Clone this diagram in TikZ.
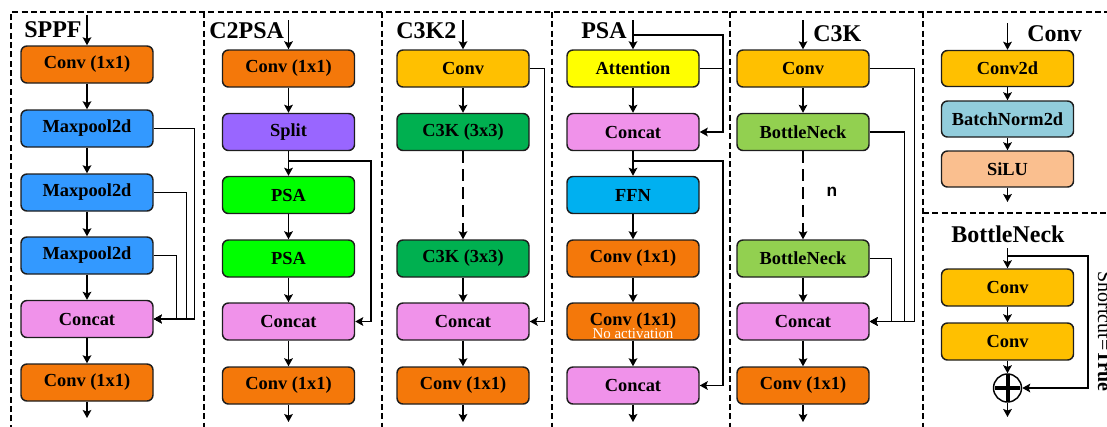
\documentclass[tikz,border=0pt]{standalone}
\usepackage{fontspec}
\setmainfont{Liberation Serif}
\newfontfamily\labelsans{Liberation Sans}
\usetikzlibrary{arrows.meta}

\definecolor{cOrange}{RGB}{244,120,10}
\definecolor{cBlue}{RGB}{51,153,255}
\definecolor{cPink}{RGB}{240,146,234}
\definecolor{cPurple}{RGB}{153,102,255}
\definecolor{cLime}{RGB}{0,255,0}
\definecolor{cGold}{RGB}{255,192,0}
\definecolor{cGreen}{RGB}{0,176,80}
\definecolor{cYellow}{RGB}{255,255,0}
\definecolor{cCyan}{RGB}{0,176,240}
\definecolor{cLeaf}{RGB}{146,208,80}
\definecolor{cTeal}{RGB}{146,205,220}
\definecolor{cPeach}{RGB}{250,191,143}
\definecolor{cEdge}{RGB}{30,30,30}

\begin{document}
\begin{tikzpicture}[x=0.75pt,y=-0.75pt,
  blk/.style={draw=cEdge, line width=1.1pt, rounded corners=4.5pt,
    minimum width=99pt, minimum height=27.75pt, inner sep=0pt,
    font=\fontsize{13.8}{16}\selectfont\bfseries},
  arr/.style={line width=1.1pt, draw=black,
    -{Stealth[length=6pt,width=6.5pt,inset=1.2pt]}},
  ln/.style={line width=1.1pt},
  thinarr/.style={arr, line width=0.8pt},
  panel/.style={line width=1.2pt, dash pattern=on 4.5pt off 2.5pt},
  ttl/.style={font=\fontsize{18}{20}\selectfont\bfseries, inner sep=0pt, anchor=base west},
  skip/.style={dash pattern=on 9pt off 4.5pt}]
\useasboundingbox (0,0) rectangle (1107,426);
\clip (0,0) rectangle (1107,426);

% panel frames
\draw[panel] (11,440) -- (11,12) -- (1120,12);
\foreach \px in {204,382,552,730,923}
  \draw[panel] (\px,12) -- (\px,440);
\draw[panel] (923,213) -- (1120,213);

% ---------------- SPPF ----------------
\node[ttl] (tsppf) at (24,37) {SPPF};
\node[blk, fill=cOrange] (sp1) at (87,64.5) {Conv (1x1)};
\node[blk, fill=cBlue]   (sp2) at (87,128.5) {Maxpool2d};
\node[blk, fill=cBlue]   (sp3) at (87,192.5) {Maxpool2d};
\node[blk, fill=cBlue]   (sp4) at (87,255.5) {Maxpool2d};
\node[blk, fill=cPink]   (sp5) at (87,319) {Concat};
\node[blk, fill=cOrange] (sp6) at (87,382.5) {Conv (1x1)};
\coordinate (spin) at (87,15);
\coordinate (spout) at (87,418);
\draw[arr] (spin) -- (sp1);
\foreach \a/\b in {sp1/sp2,sp2/sp3,sp3/sp4,sp4/sp5,sp5/sp6}
  \draw[arr] (\a) -- (\b);
\draw[arr] (sp6) -- (spout);
\draw[arr] (sp2.east) -- ++(41,0) |- (sp5.east);
\draw[arr] (sp3.east) -- ++(33,0) |- (sp5.east);
\draw[arr] (sp4.east) -- ++(23,0) |- (sp5.east);

% ---------------- C2PSA ----------------
\node[ttl] (tc2psa) at (209,38) {C2PSA};
\node[blk, fill=cOrange] (cp1) at (288.5,68.5) {Conv (1x1)};
\node[blk, fill=cPurple] (cp2) at (288.5,132) {Split};
\node[blk, fill=cLime]   (cp3) at (288.5,195) {PSA};
\node[blk, fill=cLime]   (cp4) at (288.5,258.5) {PSA};
\node[blk, fill=cPink]   (cp5) at (288.5,321.5) {Concat};
\node[blk, fill=cOrange] (cp6) at (288.5,385.5) {Conv (1x1)};
\coordinate (cpin) at (288.5,20);
\coordinate (cpout) at (288.5,422);
\coordinate (cpsplit) at (288.5,161);
\draw[arr] (cpin) -- (cp1);
\foreach \a/\b in {cp1/cp2,cp2/cp3,cp3/cp4,cp4/cp5,cp5/cp6}
  \draw[arr] (\a) -- (\b);
\draw[arr] (cp6) -- (cpout);
\draw[arr] (cpsplit) -- ++(82.5,0) |- (cp5.east);

% ---------------- C3K2 ----------------
\node[ttl] (tc3k2) at (396,38) {C3K2};
\node[blk, fill=cGold]   (ka1) at (463,68.5) {Conv};
\node[blk, fill=cGreen]  (ka2) at (463,132) {C3K (3x3)};
\node[blk, fill=cGreen]  (ka3) at (463,258.5) {C3K (3x3)};
\node[blk, fill=cPink]   (ka4) at (463,321.5) {Concat};
\node[blk, fill=cOrange] (ka5) at (463,385.5) {Conv (1x1)};
\coordinate (kain) at (463,20);
\coordinate (kaout) at (463,422);
\draw[arr] (kain) -- (ka1);
\draw[arr] (ka1) -- (ka2);
\draw[arr, skip] (ka2) -- (ka3);
\draw[arr] (ka3) -- (ka4);
\draw[arr] (ka4) -- (ka5);
\draw[arr] (ka5) -- (kaout);
\draw[arr] (ka1.east) -- ++(15,0) |- (ka4.east);

% ---------------- PSA ----------------
\node[ttl] (tpsa) at (581,38) {PSA};
\node[blk, fill=cYellow] (ps1) at (633,68.5) {Attention};
\node[blk, fill=cPink]   (ps2) at (633,132) {Concat};
\node[blk, fill=cCyan]   (ps3) at (633,195) {FFN};
\node[blk, fill=cOrange] (ps4) at (633,258.5) {Conv (1x1)};
\node[blk, fill=cOrange] (ps5) at (633,321.5) {Conv (1x1)};
\node[blk, fill=cPink]   (ps6) at (633,385.5) {Concat};
\node[font=\fontsize{11.2}{13}\selectfont, text=white, inner sep=0pt] (noact) at (633,334) {No activation};
\coordinate (psin) at (633,20);
\coordinate (psbr) at (633,35);
\coordinate (psmid) at (633,161);
\coordinate (psout) at (633,422);
\draw[arr] (psin) -- (ps1);
\foreach \a/\b in {ps1/ps2,ps2/ps3,ps3/ps4,ps4/ps5,ps5/ps6}
  \draw[arr] (\a) -- (\b);
\draw[arr] (ps6) -- (psout);
\draw[arr] (psbr) -- ++(90,0) |- (ps2.east);
\draw[ln] (ps1.east) -- ++(24,0);
\draw[arr] (psmid) -- ++(90,0) |- (ps6.east);

% ---------------- C3K ----------------
\node[ttl] (tc3k) at (813,41) {C3K};
\node[blk, fill=cGold]   (kb1) at (803,68.5) {Conv};
\node[blk, fill=cLeaf]   (kb2) at (803,132) {BottleNeck};
\node[blk, fill=cLeaf]   (kb3) at (803,258.5) {BottleNeck};
\node[blk, fill=cPink]   (kb4) at (803,321.5) {Concat};
\node[blk, fill=cOrange] (kb5) at (803,385.5) {Conv (1x1)};
\node[font=\labelsans\fontsize{13}{15}\selectfont\bfseries, inner sep=0pt] (rep) at (832,192) {n};
\coordinate (kbin) at (803,20);
\coordinate (kbout) at (803,422);
\draw[thinarr] (kbin) -- (kb1);
\draw[thinarr] (kb1) -- (kb2);
\draw[thinarr, skip] (kb2) -- (kb3);
\draw[thinarr] (kb3) -- (kb4);
\draw[thinarr] (kb4) -- (kb5);
\draw[thinarr] (kb5) -- (kbout);
\draw[thinarr] (kb1.east) -- ++(45,0) |- (kb4.east);
\draw[thinarr] (kb2.east) -- ++(35,0) |- (kb4.east);
\draw[thinarr] (kb3.east) -- ++(22,0) |- (kb4.east);

% ---------------- Conv ----------------
\node[ttl] (tconv) at (1027,41) {Conv};
\node[blk, fill=cGold, minimum height=27pt]  (cv1) at (1007.5,68.5) {Conv2d};
\node[blk, fill=cTeal, minimum height=27pt]  (cv2) at (1007.5,119) {BatchNorm2d};
\node[blk, fill=cPeach, minimum height=27pt] (cv3) at (1007.5,169) {SiLU};
\coordinate (cvin) at (1007.5,23);
\coordinate (cvout) at (1007.5,202);
\draw[arr] (cvin) -- (cv1);
\draw[arr] (cv1) -- (cv2);
\draw[arr] (cv2) -- (cv3);
\draw[arr] (cv3) -- (cvout);

% ---------------- BottleNeck ----------------
\node[ttl] (tbn) at (951,242) {BottleNeck};
\node[blk, fill=cGold] (bn1) at (1007.5,287.5) {Conv};
\node[blk, fill=cGold] (bn2) at (1007.5,341.5) {Conv};
\node[circle, draw=black, line width=1.1pt, minimum size=21pt, inner sep=0pt] (bnsum) at (1007.5,388) {};
\draw[line width=3pt] ([yshift=-1.5pt]bnsum.north) -- ([yshift=1.5pt]bnsum.south)
  ([xshift=1.5pt]bnsum.west) -- ([xshift=-1.5pt]bnsum.east);
\coordinate (bnin) at (1007.5,248);
\coordinate (bnbr) at (1007.5,256);
\coordinate (bnout) at (1007.5,417);
\draw[arr] (bnin) -- (bn1);
\draw[arr] (bn1) -- (bn2);
\draw[arr] (bn2) -- (bnsum);
\draw[arr] (bnsum) -- (bnout);
\draw[arr] (bnbr) -- ++(80.5,0) |- (bnsum.east);
\node[rotate=-90, anchor=base west, inner sep=0pt, font=\fontsize{15}{17}\selectfont] (shortcut) at (1098,271) {Shortcut=\textbf{True}};
\end{tikzpicture}
\end{document}
